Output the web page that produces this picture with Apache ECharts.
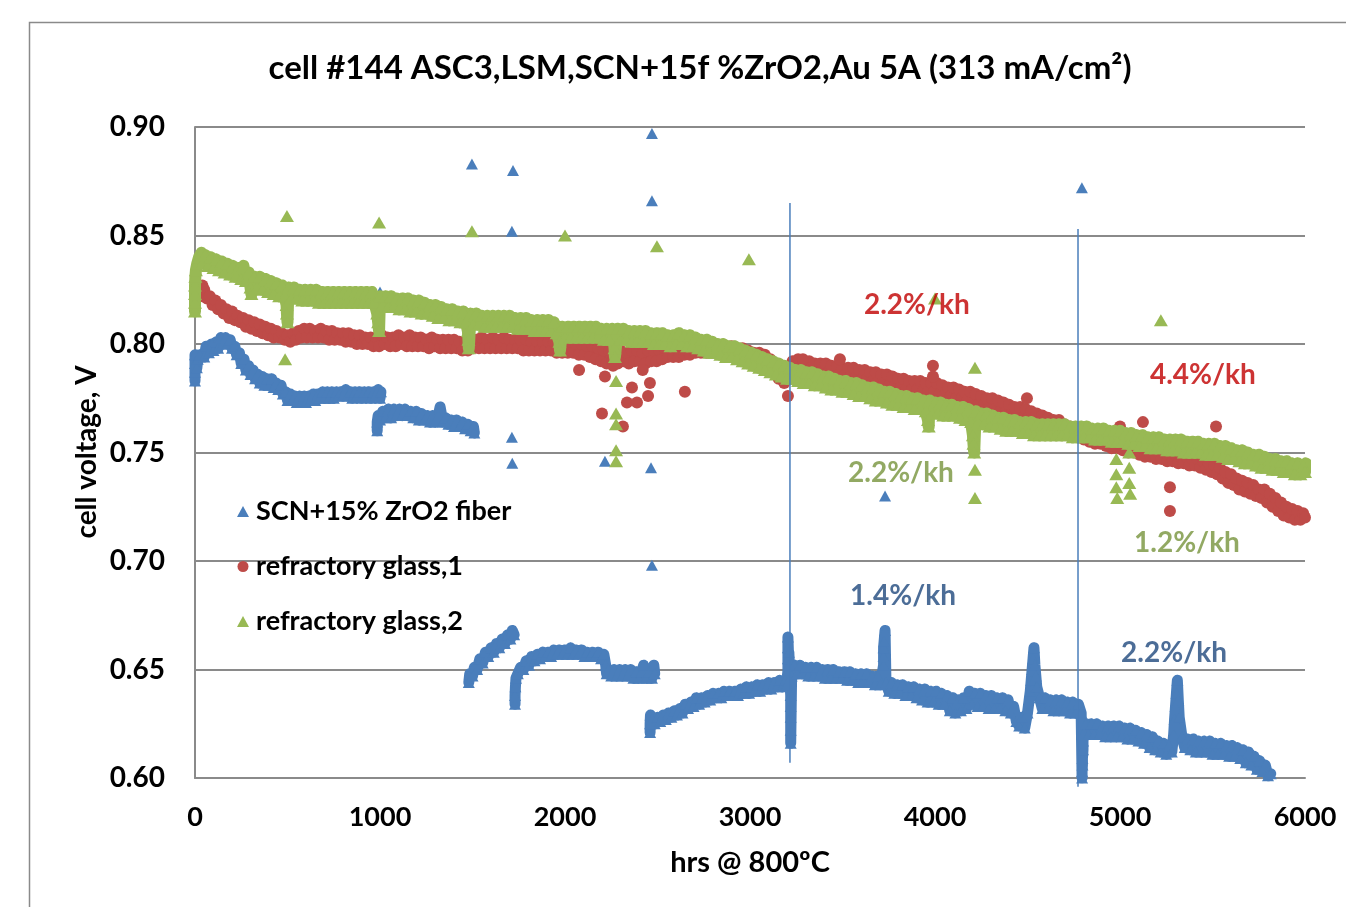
<!DOCTYPE html>
<html><head><meta charset="utf-8">
<script src="https://cdn.jsdelivr.net/npm/echarts@6/dist/echarts.min.js"></script>
<style>html,body{margin:0;padding:0;background:#fff}#c{width:1346px;height:907px}</style>
</head><body><div id="c"></div><script>
const titleText = 'cell #144 ASC3,LSM,SCN+15f %ZrO2,Au 5A (313 mA/cm\u00B2)';
const xAxisTitle = 'hrs @ 800\u00BAC';
const yAxisTitle = 'cell voltage, V';
const xTicks = [0, 1000, 2000, 3000, 4000, 5000, 6000];
const yTicks = ['0.60', '0.65', '0.70', '0.75', '0.80', '0.85', '0.90'];
const seriesNames = ['SCN+15% ZrO2 fiber', 'refractory glass,1', 'refractory glass,2'];

const fiberSeg1 = [
[0,0.783],[0,0.787],[0,0.791],[0,0.795],[10,0.789],[15,0.793],[25,0.795],[50,0.794],[60,0.799],[75,0.796],[90,0.800],[100,0.797],[115,0.801],[125,0.798],[140,0.803],[150,0.800],[165,0.803],[175,0.800],[190,0.802],[200,0.798],[215,0.799],[225,0.795],[240,0.796],[250,0.791],[265,0.793],[275,0.788],[290,0.790],[300,0.786],[315,0.788],[325,0.784],[340,0.786],[350,0.782],[365,0.785],[375,0.781],[390,0.784],[400,0.781],[415,0.784],[425,0.780],[440,0.782],[450,0.779],[465,0.781],[475,0.777],[490,0.778],[500,0.774],[515,0.777],[525,0.774],[540,0.776],[550,0.773],[565,0.776],[575,0.773],[590,0.776],[600,0.773],[615,0.776],[625,0.774],[640,0.777],[650,0.774],[665,0.777],[675,0.775],[690,0.778],[700,0.775],[715,0.778],[725,0.775],[740,0.778],[750,0.775],[765,0.778],[775,0.776],[790,0.778],[800,0.776],[815,0.779],[825,0.776],[840,0.778],[850,0.775],[865,0.778],[875,0.776],[890,0.778],[900,0.775],[915,0.778],[925,0.776],[940,0.778],[950,0.775],[965,0.778],[975,0.776],[990,0.779],[1000,0.775],[1005,0.778]];
const fiberSeg2 = [
[985,0.760],[985,0.764],[990,0.767],[1000,0.765],[1015,0.769],[1030,0.766],[1045,0.770],[1060,0.766],[1075,0.770],[1090,0.767],[1105,0.770],[1120,0.767],[1135,0.770],[1150,0.767],[1165,0.769],[1180,0.766],[1195,0.769],[1210,0.765],[1225,0.768],[1240,0.765],[1255,0.767],[1270,0.764],[1285,0.767],[1300,0.764],[1315,0.767],[1325,0.771],[1340,0.764],[1355,0.766],[1370,0.763],[1385,0.765],[1400,0.762],[1415,0.765],[1430,0.762],[1445,0.764],[1460,0.761],[1475,0.763],[1490,0.760],[1505,0.762],[1510,0.759]];
const fiberSeg3 = [
[1480,0.644],[1485,0.648],[1500,0.647],[1510,0.651],[1525,0.650],[1540,0.655],[1555,0.653],[1570,0.658],[1585,0.656],[1600,0.660],[1615,0.658],[1630,0.662],[1645,0.660],[1660,0.664],[1675,0.662],[1690,0.666],[1705,0.664],[1715,0.668],[1725,0.666]];
const fiberSeg4 = [
[1730,0.634],[1730,0.638],[1732,0.642],[1735,0.646],[1745,0.648],[1760,0.651],[1775,0.650],[1790,0.654],[1805,0.652],[1820,0.656],[1835,0.654],[1850,0.657],[1865,0.655],[1880,0.658],[1895,0.656],[1910,0.658],[1925,0.656],[1940,0.659],[1955,0.657],[1970,0.659],[1985,0.657],[2000,0.659],[2015,0.657],[2030,0.660],[2045,0.657],[2060,0.659],[2075,0.657],[2090,0.659],[2105,0.656],[2120,0.658],[2135,0.656],[2150,0.658],[2165,0.656],[2180,0.658],[2195,0.655],[2210,0.657],[2220,0.652],[2225,0.648],[2235,0.650],[2250,0.647],[2265,0.650],[2280,0.647],[2295,0.650],[2310,0.647],[2325,0.650],[2340,0.647],[2355,0.650],[2370,0.646],[2385,0.649],[2400,0.646],[2415,0.649],[2425,0.652],[2440,0.646],[2455,0.649],[2470,0.646],[2480,0.652],[2485,0.648]];
const fiberSeg5 = [
[2460,0.621],[2460,0.625],[2462,0.629],[2470,0.627],[2485,0.625],[2500,0.628],[2515,0.626],[2530,0.629],[2545,0.627],[2560,0.630],[2575,0.628],[2590,0.631],[2605,0.629],[2620,0.632],[2635,0.630],[2650,0.634],[2665,0.632],[2680,0.635],[2695,0.633],[2710,0.637],[2725,0.634],[2740,0.637],[2755,0.635],[2770,0.638],[2785,0.636],[2800,0.639],[2815,0.637],[2830,0.639],[2845,0.637],[2860,0.640],[2875,0.638],[2890,0.640],[2905,0.638],[2920,0.640],[2935,0.638],[2950,0.641],[2965,0.639],[2980,0.642],[2995,0.639],[3010,0.642],[3025,0.640],[3040,0.643],[3055,0.640],[3070,0.643],[3085,0.641],[3100,0.644],[3115,0.641],[3130,0.644],[3145,0.642],[3160,0.645],[3175,0.642],[3190,0.645],[3200,0.643],
[3205,0.650],[3205,0.655],[3205,0.660],[3205,0.665],[3210,0.652],[3210,0.658],[3220,0.638],[3220,0.633],[3220,0.628],[3220,0.622],[3220,0.616],
[3225,0.647],[3240,0.652],[3255,0.648],[3270,0.652],[3285,0.648],[3300,0.651],[3315,0.647],[3330,0.651],[3345,0.647],[3360,0.651],[3375,0.647],[3390,0.650],[3405,0.646],[3420,0.650],[3435,0.646],[3450,0.650],[3465,0.646],[3480,0.649],[3495,0.646],[3510,0.649],[3525,0.645],[3540,0.649],[3555,0.645],[3570,0.648],[3585,0.644],[3600,0.648],[3615,0.644],[3630,0.648],[3645,0.644],[3660,0.647],[3675,0.643],[3690,0.647],[3705,0.643],
[3722,0.652],[3722,0.656],[3722,0.660],[3725,0.663],[3730,0.668],
[3735,0.644],[3750,0.640],[3765,0.644],[3780,0.639],[3795,0.643],[3810,0.639],[3825,0.643],[3840,0.638],[3855,0.642],[3870,0.638],[3885,0.642],[3900,0.637],[3915,0.641],[3930,0.636],[3945,0.641],[3960,0.635],[3975,0.640],[3990,0.635],[4005,0.640],[4020,0.634],[4035,0.639],[4050,0.634],[4065,0.638],[4080,0.631],[4095,0.637],[4110,0.630],[4125,0.636],[4140,0.631],[4155,0.637],[4170,0.632],[4185,0.640],[4200,0.634],[4215,0.639],[4230,0.633],[4245,0.639],[4260,0.633],[4275,0.638],[4290,0.632],[4305,0.638],[4320,0.632],[4335,0.637],[4350,0.632],[4365,0.637],[4380,0.631],[4395,0.636],[4410,0.630],[4425,0.633],[4440,0.626],[4455,0.624],[4470,0.628],[4485,0.623],[4500,0.630],
[4515,0.640],[4520,0.645],[4525,0.650],[4530,0.655],[4535,0.660],[4540,0.652],[4545,0.647],[4550,0.642],
[4565,0.637],[4580,0.632],[4595,0.637],[4610,0.632],[4625,0.636],[4640,0.631],[4655,0.636],[4670,0.631],[4685,0.636],[4700,0.631],[4715,0.635],[4730,0.630],[4745,0.635],[4760,0.630],[4775,0.634],[4790,0.630],
[4795,0.600],[4795,0.603],[4797,0.606],[4797,0.609],[4800,0.613],[4800,0.617],[4805,0.621],[4815,0.625],[4830,0.620],[4845,0.625],[4860,0.620],[4875,0.625],[4890,0.620],[4905,0.624],[4920,0.619],[4935,0.624],[4950,0.619],[4965,0.624],[4980,0.619],[4995,0.624],[5010,0.619],[5025,0.623],[5040,0.618],[5055,0.623],[5070,0.618],[5085,0.622],[5100,0.617],[5115,0.621],[5130,0.616],[5145,0.620],[5160,0.614],[5175,0.619],[5190,0.613],[5205,0.617],[5220,0.612],[5235,0.616],[5250,0.611],[5265,0.615],[5280,0.612],
[5290,0.620],[5295,0.627],[5300,0.633],[5305,0.639],[5310,0.645],[5315,0.636],[5320,0.628],
[5335,0.619],[5350,0.614],[5365,0.618],[5380,0.613],[5395,0.618],[5410,0.612],[5425,0.617],[5440,0.612],[5455,0.617],[5470,0.612],[5485,0.617],[5500,0.611],[5515,0.616],[5530,0.611],[5545,0.616],[5560,0.611],[5575,0.615],[5590,0.610],[5605,0.615],[5620,0.610],[5635,0.614],[5650,0.609],[5665,0.613],[5680,0.607],[5695,0.612],[5710,0.606],[5725,0.610],[5740,0.604],[5755,0.608],[5770,0.603],[5785,0.606],[5800,0.601],[5815,0.602]];
const fiberOutliers = [[1497,0.883],[1719,0.880],[1713,0.852],[1713,0.757],[1715,0.745],[2470,0.897],[2470,0.866],[2465,0.743],[2470,0.698],[2216,0.746],[4794,0.872],[3730,0.730],[1000,0.824]];

const glass1Pts = [
[40,0.827],[40,0.822],[50,0.825],[65,0.821],[80,0.822],[95,0.818],[110,0.820],[125,0.816],[140,0.818],[155,0.814],[170,0.816],[185,0.812],[200,0.815],[215,0.811],[230,0.813],[245,0.810],[260,0.812],[275,0.808],[290,0.811],[305,0.807],[320,0.810],[335,0.806],[350,0.809],[365,0.805],[380,0.808],[395,0.804],[410,0.807],[425,0.803],[440,0.806],[455,0.803],[470,0.805],[485,0.802],[500,0.804],[515,0.801],[530,0.805],[545,0.802],[560,0.806],[575,0.803],[590,0.807],[605,0.803],[620,0.807],[635,0.803],[650,0.806],[665,0.803],[680,0.807],[695,0.803],[710,0.806],[725,0.802],[740,0.806],[755,0.802],[770,0.805],[785,0.802],[800,0.805],[815,0.801],[830,0.805],[845,0.801],[860,0.804],[875,0.800],[890,0.804],[905,0.800],[920,0.803],[935,0.800],[950,0.803],[965,0.799],[980,0.803],[995,0.799],[1010,0.804],[1025,0.800],[1040,0.803],[1055,0.799],[1070,0.803],[1085,0.799],[1100,0.804],[1115,0.800],[1130,0.803],[1145,0.799],[1160,0.804],[1175,0.799],[1190,0.803],[1205,0.799],[1220,0.803],[1235,0.799],[1250,0.802],[1265,0.798],[1280,0.803],[1295,0.799],[1310,0.802],[1325,0.798],[1340,0.802],[1355,0.798],[1370,0.802],[1385,0.798],[1400,0.802],[1415,0.798],[1430,0.801],[1445,0.797],[1460,0.801],[1475,0.797],[1490,0.802],[1505,0.798],[1520,0.802],[1535,0.798],[1550,0.803],[1565,0.798],[1580,0.802],[1595,0.798],[1610,0.803],[1625,0.798],[1640,0.802],[1655,0.798],[1670,0.803],[1685,0.798],[1700,0.802],[1715,0.798],[1730,0.802],[1745,0.798],[1760,0.802],[1775,0.797],[1790,0.802],[1805,0.797],[1820,0.801],[1835,0.797],[1850,0.801],[1865,0.797],[1880,0.801],[1895,0.797],[1910,0.801],[1925,0.797],[1940,0.801],[1955,0.796],[1970,0.800],[1985,0.796],[2000,0.800],[2015,0.796],[2030,0.801],[2045,0.796],[2060,0.800],[2075,0.795],[2090,0.800],[2105,0.795],[2120,0.799],[2135,0.794],[2150,0.799],[2165,0.793],[2180,0.798],[2195,0.792],[2210,0.797],[2225,0.791],[2240,0.797],[2255,0.792],[2270,0.798],[2285,0.791],[2300,0.797],[2315,0.792],[2330,0.796],[2345,0.791],[2360,0.797],[2375,0.792],[2390,0.797],[2405,0.792],[2420,0.796],[2435,0.791],[2450,0.797],[2465,0.792],[2480,0.797],[2495,0.792],[2510,0.797],[2525,0.793],[2540,0.798],[2555,0.794],[2570,0.798],[2585,0.794],[2600,0.798],[2615,0.794],[2630,0.799],[2645,0.795],[2660,0.799],[2675,0.795],[2690,0.799],[2705,0.796],[2720,0.800],[2735,0.796],[2750,0.800],[2765,0.796],[2780,0.800],[2795,0.796],[2810,0.800],[2825,0.796],[2840,0.799],[2855,0.796],[2870,0.799],[2885,0.795],[2900,0.799],[2915,0.795],[2930,0.798],[2945,0.794],[2960,0.798],[2975,0.794],[2990,0.797],[3005,0.793],[3020,0.796],[3035,0.792],[3050,0.796],[3065,0.792],[3080,0.795],[3095,0.791],[3110,0.793],[3125,0.789],[3140,0.788],[3155,0.784],[3170,0.786],[3185,0.782],[3200,0.785],[3215,0.790],[3230,0.792],[3245,0.789],[3260,0.793],[3275,0.789],[3290,0.792],[3305,0.789],[3320,0.792],[3335,0.788],[3350,0.791],[3365,0.788],[3380,0.791],[3395,0.787],[3410,0.791],[3425,0.787],[3440,0.790],[3455,0.786],[3470,0.790],[3485,0.786],[3500,0.789],[3515,0.786],[3530,0.789],[3545,0.785],[3560,0.789],[3575,0.785],[3590,0.788],[3605,0.784],[3620,0.788],[3635,0.784],[3650,0.787],[3665,0.783],[3680,0.787],[3695,0.783],[3710,0.786],[3725,0.782],[3740,0.786],[3755,0.781],[3770,0.785],[3785,0.781],[3800,0.784],[3815,0.780],[3830,0.784],[3845,0.779],[3860,0.783],[3875,0.779],
[3890,0.783],[3905,0.779],[3920,0.783],[3935,0.778],[3950,0.782],[3965,0.778],[3980,0.782],[3995,0.778],[4010,0.782],[4025,0.777],[4040,0.781],[4055,0.777],[4070,0.780],[4085,0.776],[4100,0.780],[4115,0.775],[4130,0.779],[4145,0.775],[4160,0.778],[4175,0.774],[4190,0.778],[4205,0.773],[4220,0.777],[4235,0.772],[4250,0.776],[4265,0.772],[4280,0.775],[4295,0.771],[4310,0.775],[4325,0.770],[4340,0.774],[4355,0.769],[4370,0.773],[4385,0.769],[4400,0.772],[4415,0.768],[4430,0.771],[4445,0.767],[4460,0.771],[4475,0.766],[4490,0.770],[4505,0.766],[4520,0.769],[4535,0.765],[4550,0.768],[4565,0.764],[4580,0.767],[4595,0.763],[4610,0.766],[4625,0.762],[4640,0.765],[4655,0.761],[4670,0.765],[4685,0.761],[4700,0.763],
[4715,0.759],[4730,0.762],[4745,0.758],[4760,0.761],[4775,0.757],[4790,0.760],[4805,0.756],[4820,0.759],[4835,0.755],[4850,0.758],[4865,0.754],[4880,0.757],[4895,0.754],[4910,0.756],[4925,0.753],[4940,0.756],[4955,0.752],[4970,0.755],[4985,0.752],[5000,0.754],[5015,0.751],[5030,0.754],[5045,0.750],[5060,0.753],[5075,0.750],[5090,0.752],[5105,0.749],[5120,0.752],[5135,0.748],[5150,0.751],[5165,0.748],[5180,0.751],[5195,0.747],[5210,0.750],[5225,0.747],[5240,0.750],[5255,0.746],[5270,0.749],[5285,0.746],[5300,0.749],[5315,0.745],[5330,0.748],[5345,0.745],[5360,0.748],[5375,0.744],[5390,0.747],[5405,0.744],[5420,0.747],[5435,0.743],[5450,0.746],[5465,0.742],[5480,0.745],[5495,0.741],[5510,0.744],[5525,0.740],[5540,0.743],[5555,0.738],[5570,0.741],[5585,0.736],[5600,0.740],[5615,0.735],[5630,0.738],[5645,0.733],[5660,0.737],[5675,0.732],[5690,0.736],[5705,0.731],[5720,0.735],[5735,0.730],[5750,0.733],[5765,0.729],[5780,0.733],[5795,0.727],[5810,0.731],[5825,0.725],[5840,0.729],[5855,0.723],[5870,0.727],[5885,0.721],[5900,0.725],[5915,0.720],[5930,0.724],[5945,0.719],[5960,0.723],[5975,0.719],[5990,0.722],[6000,0.720]];
const glass1Outliers = [[2076,0.788],[2216,0.785],[2200,0.768],[2313,0.762],[2362,0.780],[2459,0.782],[2449,0.776],[2335,0.773],[2389,0.773],[2648,0.778],[3205,0.776],[3286,0.793],[3486,0.793],[3989,0.790],[3989,0.785],[4497,0.775],[5124,0.764],[5519,0.762],[5270,0.734],[5270,0.723],[5000,0.762],[2260,0.790],[2420,0.788]];

const glass2Pts = [
[0,0.815],[0,0.819],[0,0.823],[0,0.827],[2,0.831],[5,0.834],[12,0.837],[22,0.840],[35,0.842],[45,0.838],[55,0.841],[70,0.836],[85,0.840],[100,0.835],[115,0.839],[130,0.834],[145,0.838],[160,0.833],[175,0.837],[190,0.832],[205,0.836],[220,0.831],[235,0.835],[250,0.830],[262,0.836],[275,0.829],[290,0.833],[300,0.826],[305,0.823],[320,0.831],[335,0.826],[350,0.831],[365,0.825],[380,0.830],[395,0.824],[410,0.829],[425,0.823],[440,0.828],[455,0.822],[470,0.827],[485,0.822],[495,0.818],[497,0.814],[500,0.810],[505,0.826],[520,0.821],[535,0.826],[550,0.821],[565,0.825],[580,0.820],[595,0.825],[610,0.820],[625,0.825],[640,0.820],[655,0.825],[670,0.819],[685,0.824],[700,0.819],[715,0.824],[730,0.819],[745,0.824],[760,0.819],[775,0.824],[790,0.819],[805,0.824],[820,0.819],[835,0.824],[850,0.819],[865,0.824],[880,0.819],[895,0.824],[910,0.819],[925,0.824],[940,0.819],[955,0.824],[970,0.819],[985,0.814],[990,0.810],[995,0.806],[1000,0.822],[1015,0.818],[1030,0.822],[1045,0.817],[1060,0.822],[1075,0.817],[1090,0.821],[1105,0.816],[1120,0.821],[1135,0.816],[1150,0.821],[1165,0.815],[1180,0.820],[1195,0.815],[1210,0.820],[1225,0.814],[1240,0.819],[1255,0.814],[1270,0.818],[1285,0.813],[1300,0.818],[1315,0.812],[1330,0.817],[1345,0.812],[1360,0.816],[1375,0.811],[1390,0.816],[1405,0.811],[1420,0.815],[1435,0.810],[1450,0.815],[1465,0.810],[1475,0.806],[1478,0.802],[1480,0.798],[1490,0.814],[1505,0.809],[1520,0.814],[1535,0.809],[1550,0.813],[1565,0.808],[1580,0.813],[1595,0.808],[1610,0.813],[1625,0.808],[1640,0.813],[1655,0.808],[1670,0.813],[1685,0.808],[1700,0.813],[1715,0.808],[1730,0.812],[1745,0.807],[1760,0.812],[1775,0.807],[1790,0.812],[1805,0.807],[1820,0.811],[1835,0.806],[1850,0.811],[1865,0.806],[1880,0.811],[1895,0.806],[1910,0.811],[1925,0.806],[1940,0.810],[1955,0.805],[1970,0.801],[1973,0.797],[1985,0.808],[2000,0.803],[2015,0.808],[2030,0.803],[2045,0.808],[2060,0.803],[2075,0.808],[2090,0.803],[2105,0.808],[2120,0.803],[2135,0.808],[2150,0.803],[2165,0.808],[2180,0.803],[2195,0.807],[2210,0.802],[2225,0.807],[2240,0.802],[2255,0.807],[2268,0.798],[2270,0.794],[2285,0.807],[2300,0.802],[2315,0.807],[2330,0.802],[2345,0.806],[2360,0.801],[2375,0.806],[2390,0.801],[2405,0.806],[2420,0.801],[2435,0.806],[2450,0.801],[2465,0.805],[2480,0.800],[2495,0.805],[2510,0.800],[2525,0.805],[2540,0.800],[2555,0.804],[2570,0.799],[2585,0.804],
[2600,0.800],[2615,0.805],[2630,0.800],[2645,0.804],[2660,0.799],[2675,0.804],[2690,0.799],[2705,0.803],[2720,0.798],[2735,0.802],[2750,0.797],[2765,0.802],[2780,0.796],[2795,0.801],[2810,0.796],[2825,0.800],[2840,0.795],[2855,0.800],[2870,0.794],[2885,0.799],[2900,0.794],[2915,0.799],[2930,0.793],[2945,0.798],[2960,0.792],[2975,0.797],[2990,0.791],[3005,0.796],[3020,0.790],[3035,0.795],[3050,0.789],[3065,0.794],[3080,0.788],[3095,0.793],[3110,0.787],[3125,0.792],[3140,0.786],[3155,0.791],[3170,0.785],[3185,0.790],[3200,0.784],[3215,0.789],[3230,0.784],[3245,0.788],[3260,0.783],[3275,0.788],[3290,0.782],[3305,0.787],[3320,0.782],[3335,0.787],[3350,0.781],[3365,0.786],[3380,0.781],[3395,0.785],[3410,0.780],[3425,0.785],[3440,0.779],[3455,0.784],[3470,0.779],[3485,0.783],[3500,0.778],[3515,0.783],[3530,0.778],[3545,0.782],[3560,0.777],[3575,0.782],[3590,0.776],[3605,0.781],[3620,0.776],[3635,0.780],[3650,0.775],[3665,0.780],[3680,0.774],[3695,0.779],[3710,0.774],[3725,0.778],[3740,0.773],[3755,0.778],[3770,0.772],[3785,0.777],[3800,0.772],[3815,0.776],[3830,0.771],[3845,0.776],[3860,0.771],[3875,0.775],[3890,0.770],[3905,0.775],[3920,0.770],[3935,0.774],[3950,0.769],[3962,0.765],[3966,0.762],[3970,0.774],[3985,0.768],[4000,0.773],[4015,0.768],[4030,0.773],[4045,0.767],[4060,0.772],[4075,0.767],[4090,0.772],[4105,0.767],[4120,0.771],[4135,0.766],[4150,0.771],[4165,0.765],[4180,0.770],[4195,0.764],[4205,0.758],[4208,0.754],[4212,0.750],[4220,0.769],[4235,0.764],[4250,0.768],[4265,0.763],[4280,0.768],[4295,0.762],[4310,0.767],[4325,0.762],[4340,0.766],[4355,0.761],[4370,0.766],[4385,0.760],[4400,0.765],[4415,0.760],[4430,0.765],[4445,0.760],[4460,0.764],[4475,0.759],[4490,0.764],[4505,0.759],[4520,0.764],[4535,0.758],[4550,0.763],[4565,0.758],[4580,0.763],[4595,0.758],[4610,0.763],[4625,0.758],[4640,0.763],[4655,0.758],[4670,0.763],[4685,0.758],[4700,0.763],[4715,0.758],[4730,0.762],[4745,0.757],[4760,0.762],[4775,0.757],[4790,0.762],[4805,0.757],[4820,0.762],[4835,0.757],[4850,0.761],[4865,0.756],[4880,0.761],[4895,0.756],[4910,0.761],[4925,0.756],[4940,0.760],[4955,0.755],[4970,0.760],[4985,0.755],[5000,0.760],[5015,0.755],[5030,0.759],[5045,0.754],[5060,0.759],[5075,0.754],[5090,0.758],[5105,0.753],[5120,0.758],[5135,0.753],[5150,0.757],[5165,0.752],[5180,0.757],[5195,0.752],[5210,0.757],[5225,0.752],[5240,0.756],[5255,0.751],[5270,0.756],[5285,0.751],[5300,0.756],[5315,0.751],[5330,0.756],[5345,0.750],[5360,0.755],[5375,0.750],[5390,0.755],[5405,0.750],[5420,0.755],[5435,0.750],[5450,0.754],[5465,0.749],[5480,0.754],[5495,0.749],[5510,0.754],[5525,0.749],[5540,0.753],[5555,0.748],[5570,0.753],[5585,0.747],[5600,0.752],[5615,0.747],[5630,0.751],[5645,0.746],[5660,0.751],[5675,0.745],[5690,0.750],[5705,0.745],[5720,0.749],[5735,0.744],[5750,0.749],[5765,0.743],[5780,0.748],[5795,0.743],[5810,0.747],[5825,0.742],[5840,0.747],[5855,0.742],[5870,0.746],[5885,0.741],[5900,0.746],[5915,0.741],[5930,0.745],[5945,0.740],[5960,0.745],[5975,0.740],[5990,0.744],[6000,0.741],[6005,0.745]];
const glass2Outliers = [[497,0.859],[995,0.856],[1497,0.852],[2000,0.850],[2497,0.845],[2994,0.839],[4000,0.821],[4216,0.789],[4216,0.742],[4216,0.729],[5221,0.811],[487,0.793],[2276,0.783],[2276,0.768],[2276,0.763],[2276,0.751],[2276,0.746],[4980,0.747],[4980,0.740],[4980,0.734],[4985,0.729],[5050,0.750],[5050,0.743],[5050,0.736],[5055,0.731]];

const markerLine1 = [[3216,0.865],[3216,0.607]];
const markerLine2 = [[4773,0.853],[4773,0.596]];

const rateLabels = ['2.2%/kh','4.4%/kh','2.2%/kh','1.2%/kh','1.4%/kh','2.2%/kh'];
const rateHrs = [3902, 5448, 3816, 5362, 3827, 5292];
const rateVolts = [0.818, 0.7857, 0.7406, 0.7083, 0.6839, 0.6577];
const rateColors = ['#C00000','#C00000','#77933C','#77933C','#1F497D','#1F497D'];

const FONT = 'Lato';
const chart = echarts.init(document.getElementById('c'), null, {renderer:'canvas'});
const BLUE = '#4A7EBB', RED = '#BE4B48', GREEN = '#98B954';
const fiberSegs = [fiberSeg1, fiberSeg2, fiberSeg3, fiberSeg4, fiberSeg5];
const fiberAll = [].concat(...fiberSegs, fiberOutliers);

function ribbon(data, color, width, z) {
  return {type: 'line', data: data, symbol: 'none', silent: true, z: z, legendHoverLink: false,
    lineStyle: {color: color, width: width, join: 'round', cap: 'round'}};
}

chart.setOption({
  animation: false,
  backgroundColor: '#fff',
  grid: {left: 195, right: 41, top: 127, bottom: 129, containLabel: false},
  xAxis: {
    type: 'value', min: 0, max: 6000, interval: 1000,
    axisLine: {show: true, lineStyle: {color: '#8a8a8a', width: 2}},
    axisTick: {show: false},
    splitLine: {show: false},
    axisLabel: {margin: 26, color: '#000', fontFamily: FONT, fontWeight: 'bold', fontSize: 27,
      formatter: v => String(xTicks[Math.round(v/1000)])},
    name: xAxisTitle, nameLocation: 'middle', nameGap: 70,
    nameTextStyle: {color: '#000', fontFamily: FONT, fontWeight: 'bold', fontSize: 29}
  },
  yAxis: {
    type: 'value', min: 0.6, max: 0.9, interval: 0.05,
    axisLine: {show: true, lineStyle: {color: '#8a8a8a', width: 2}},
    axisTick: {show: false},
    splitLine: {show: true, lineStyle: {color: '#8a8a8a', width: 2}},
    axisLabel: {margin: 30, color: '#000', fontFamily: FONT, fontWeight: 'bold', fontSize: 28,
      formatter: v => yTicks[Math.round((v-0.6)/0.05)]}
  },
  legend: {
    orient: 'vertical', left: 232, top: 492, itemGap: 26, itemWidth: 12, itemHeight: 11,
    textStyle: {color: '#000', fontFamily: FONT, fontWeight: 'bold', fontSize: 27, lineHeight: 29, padding: [0,0,0,2]},
    data: [
      {name: seriesNames[0], icon: 'triangle'},
      {name: seriesNames[1], icon: 'circle'},
      {name: seriesNames[2], icon: 'triangle'}
    ]
  },
  graphic: [
    {type: 'rect', shape: {x: 29.5, y: 22.5, width: 1400, height: 1000}, style: {fill: 'none', stroke: '#8a8a8a', lineWidth: 1.5}, silent: true, z: -10},
    {type: 'text', x: 700, y: 68, style: {text: titleText, fill: '#000', font: 'bold 33px ' + FONT, textAlign: 'center', textVerticalAlign: 'middle'}},
    {type: 'text', x: 87, y: 452, rotation: Math.PI/2, style: {text: yAxisTitle, fill: '#000', font: 'bold 28px ' + FONT, textAlign: 'center', textVerticalAlign: 'middle'}}
  ],
  series: [
    ...fiberSegs.map(s => ribbon(s, BLUE, 11, 1)),
    {name: seriesNames[0], type: 'scatter', symbol: 'triangle', symbolSize: [12,11], itemStyle: {color: BLUE, opacity: 1}, data: fiberAll, z: 2},
    ribbon(glass1Pts, RED, 8, 3),
    {name: seriesNames[1], type: 'scatter', symbol: 'circle', symbolSize: 12, itemStyle: {color: RED, opacity: 1}, data: glass1Pts.concat(glass1Outliers), z: 4},
    ribbon(glass2Pts, GREEN, 12, 5),
    {name: seriesNames[2], type: 'scatter', symbol: 'triangle', symbolSize: [14,12], itemStyle: {color: GREEN, opacity: 1}, data: glass2Pts.concat(glass2Outliers), z: 6},
    {name: 'line1', type: 'line', data: markerLine1, symbol: 'none', clip: false, silent: true, lineStyle: {color: BLUE, width: 1.5}, z: 7},
    {name: 'line2', type: 'line', data: markerLine2, symbol: 'none', clip: false, silent: true, lineStyle: {color: BLUE, width: 1.5}, z: 7},
    {name: 'rates', type: 'scatter', symbolSize: 0, z: 8, silent: true,
      data: rateLabels.map((t, i) => ({name: t, value: [rateHrs[i], rateVolts[i]],
        label: {show: true, position: 'inside', formatter: '{b}', color: rateColors[i], fontFamily: FONT, fontWeight: 'bold', fontSize: 28}}))}
  ]
});
</script></body></html>
